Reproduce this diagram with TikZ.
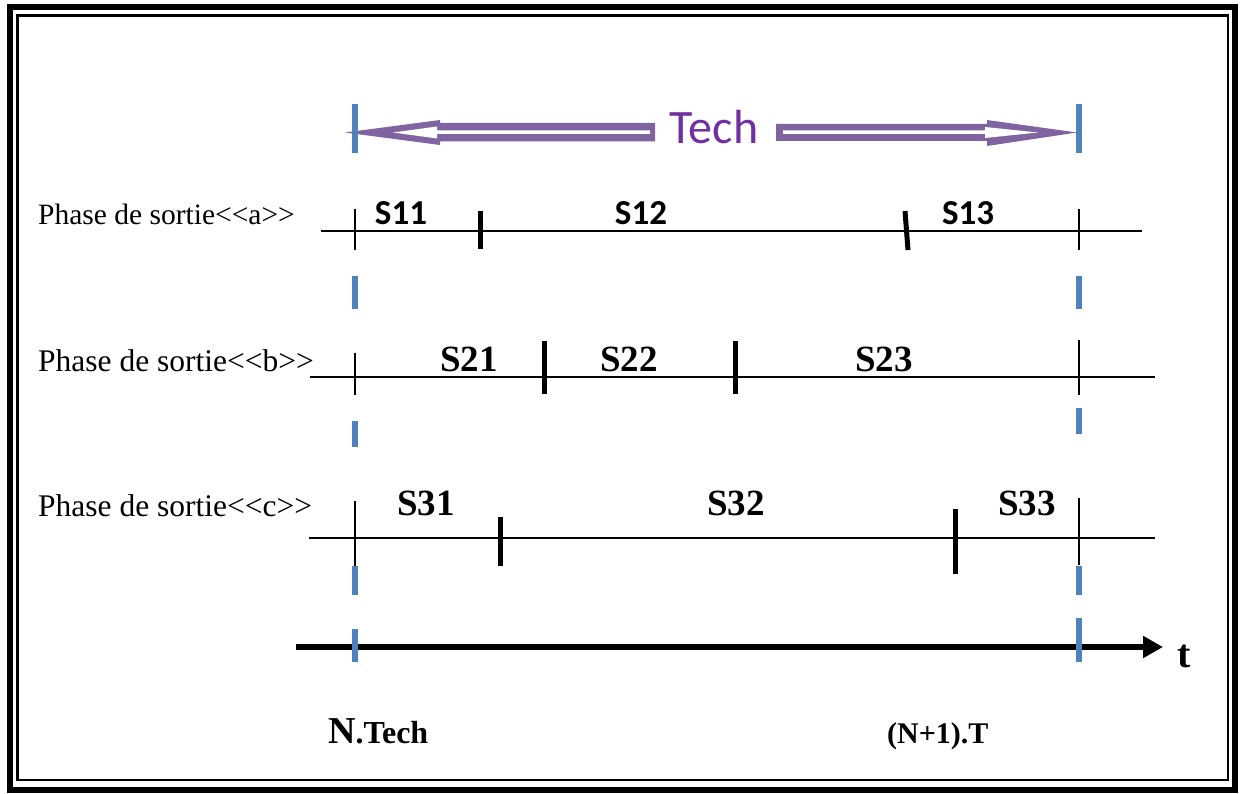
\documentclass[tikz,border=0pt]{standalone}
\usepackage{fontspec}
\setmainfont{Liberation Serif}
\newfontfamily\calibri{Carlito}
\usetikzlibrary{arrows.meta,positioning,calc}

\definecolor{techpurple}{HTML}{8064A2}
\definecolor{techtext}{HTML}{7030A0}
\definecolor{boundblue}{HTML}{4F81BD}

\begin{document}
\begin{tikzpicture}[
  x=1pt, y=-1pt,
  >=Latex,
  rowline/.style={line width=1.6pt},
  thin tick/.style={line width=1.6pt},
  cut/.style={line width=5pt},
  bound/.style={line width=6pt, boundblue},
  phase/.style={anchor=base west, inner sep=0pt},
  segsans/.style={font=\calibri\bfseries\fontsize{35}{38}\selectfont, anchor=base, inner sep=0pt},
  segserif/.style={font=\bfseries\fontsize{37}{40}\selectfont, anchor=base, inner sep=0pt},
  lab/.style={font=\bfseries\fontsize{30}{33}\selectfont, anchor=base west, inner sep=0pt}
]
\useasboundingbox (0,0) rectangle (1241,794);

% --- Frame (thick + thin border) ---------------------------------------------
\draw[line width=6pt] (10,7.5) rectangle (1235,789.5);
\draw[line width=2.5pt] (17.3,15.3) rectangle (1228,780);

% --- Boundaries of the period ------------------------------------------------
\coordinate (L) at (355,0);
\coordinate (R) at (1079,0);

% --- Tech double arrow ---------------------------------------------------------
\node[font=\calibri\fontsize{48}{50}\selectfont, text=techtext, inner sep=0pt] (tech) at (714,127) {Tech};
\fill[techpurple] (655,123) -- (440,123) -- (440,120) -- (345,132.5) -- (440,145) -- (440,141.5) -- (655,141.5) -- cycle;
\fill[white] (650,130.5) -- (437,130.5) -- (437,126.5) -- (393,132.5) -- (437,138.5) -- (437,134) -- (650,134) -- cycle;
\fill[techpurple] (776,124) -- (987,124) -- (987,120) -- (1077,132.5) -- (987,146) -- (987,141) -- (776,141) -- cycle;
\fill[white] (783,130.5) -- (985,130.5) -- (985,127) -- (1038,132.5) -- (985,138) -- (985,134) -- (783,134) -- cycle;

% --- Phase a -------------------------------------------------------------------
\node[phase, font=\fontsize{29.5}{32}\selectfont] (pa) at (38,225) {Phase de sortie<\kern0pt<a>\kern0pt>};
\draw[rowline] (321,231) -- (1142,231);
\draw[thin tick] (L |- 0,209) -- (L |- 0,250);
\draw[thin tick] (R |- 0,209) -- (R |- 0,250);
\draw[cut] (480,211) -- (480,249);
\draw[cut] (905,211) -- (908,250);
\node[segsans] (s11) at (401,225) {S11};
\node[segsans] (s12) at (641,225) {S12};
\node[segsans] (s13) at (968,225) {S13};

% --- Phase b -------------------------------------------------------------------
\node[phase, font=\fontsize{31.5}{34}\selectfont] (pb) at (38,371.5) {Phase de sortie<\kern0pt<b>\kern0pt>};
\draw[rowline] (310,377) -- (1155,377);
\draw[thin tick] (L |- 0,353) -- (L |- 0,395);
\draw[thin tick] (R |- 0,340) -- (R |- 0,395);
\draw[cut] (544,341) -- (544,394);
\draw[cut] (735,341) -- (735,394);
\node[segserif] (s21) at (469,371.5) {S21};
\node[segserif] (s22) at (629,371.5) {S22};
\node[segserif] (s23) at (884,371.5) {S23};

% --- Phase c -------------------------------------------------------------------
\node[phase, font=\fontsize{31.5}{34}\selectfont] (pc) at (38,516) {Phase de sortie<\kern0pt<c>\kern0pt>};
\draw[rowline] (309,538) -- (1155,538);
\draw[thin tick] (L |- 0,501) -- (L |- 0,566);
\draw[thin tick] (R |- 0,498) -- (R |- 0,565);
\draw[cut] (500,517) -- (500,566);
\draw[cut] (955,509) -- (955,574);
\node[segserif] (s31) at (426,515) {S31};
\node[segserif] (s32) at (736,515) {S32};
\node[segserif] (s33) at (1027,515) {S33};

% --- Time axis -----------------------------------------------------------------
\draw[line width=6pt, -{Triangle[length=20pt,width=21pt]}] (296,647) -- (1163,647);
\node[font=\bfseries\fontsize{40}{42}\selectfont, anchor=base, inner sep=0pt] (t) at (1184,667) {t};

% --- Blue dashed boundaries ----------------------------------------------------
\foreach \ya/\yb in {104/153, 276/309, 421/447, 566/595, 629/662}
  \draw[bound] (L |- 0,\ya) -- (L |- 0,\yb);
\foreach \ya/\yb in {104/153, 276/309, 408/434, 566/595, 618/662}
  \draw[bound] (R |- 0,\ya) -- (R |- 0,\yb);

% --- Time labels ---------------------------------------------------------------
\node[lab] (ntech) at (328,743) {{\fontsize{38}{40}\selectfont N}{\fontsize{32}{34}\selectfont.Tech}};
\node[lab] (nt1) at (887,743) {(N+1).T};

\end{tikzpicture}
\end{document}
